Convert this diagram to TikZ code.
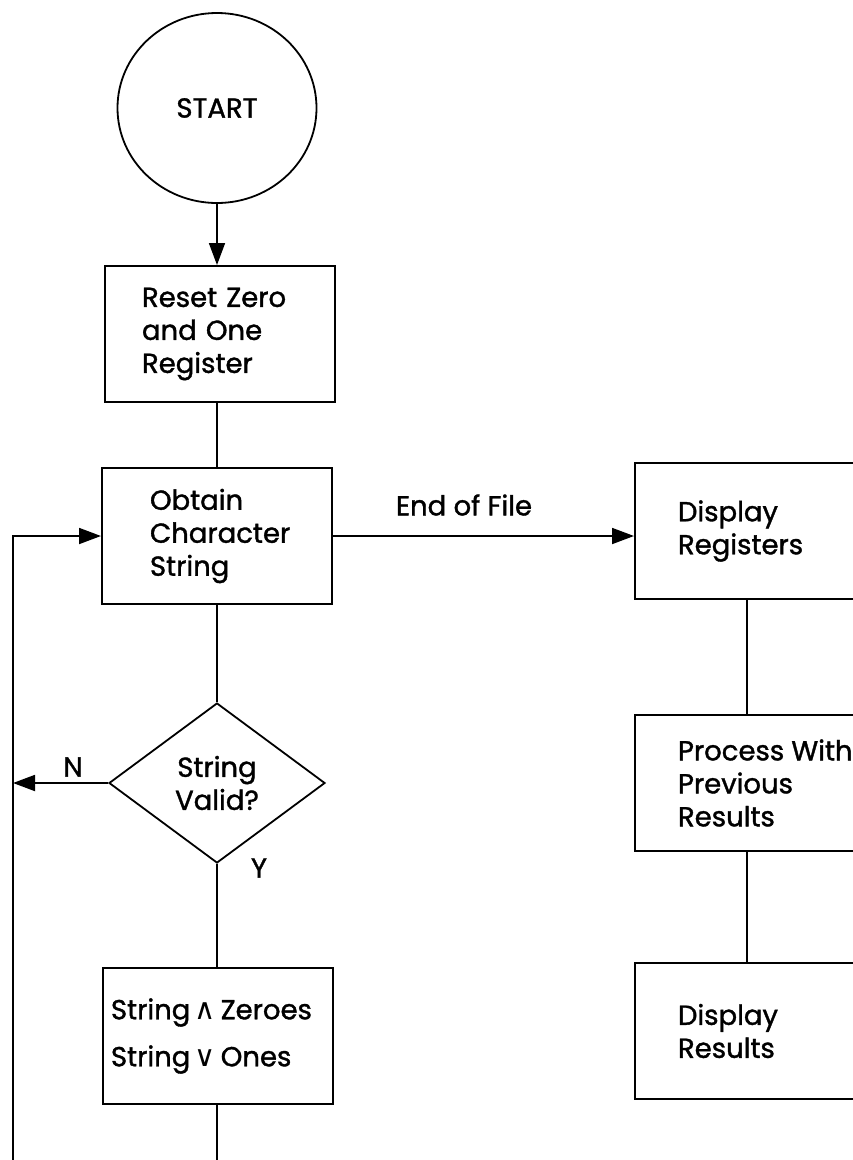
\documentclass[tikz,border=0pt]{standalone}
\usepackage{fontspec}
\setmainfont{Poppins}[FakeBold=1.3]
\newfontfamily\symfont{DejaVu Sans}
\usetikzlibrary{arrows.meta,shapes.geometric}
\newcommand{\symch}[1]{{\symfont\fontsize{29}{33}\selectfont #1}}
\begin{document}
\begin{tikzpicture}[x=1pt,y=-1pt,
  every node/.style={font=\fontsize{27.5}{33}\selectfont},
  conn/.style={line width=1.8pt},
  arr/.style={conn,-{Triangle[length=22pt,width=16pt]}},
  box/.style={draw,line width=2pt,rectangle,minimum width=230pt,minimum height=136pt,align=left,inner xsep=0pt},
  rbox/.style={box,minimum width=300pt,text width=214pt},
  lbl/.style={inner sep=0pt}
]
\useasboundingbox (0,0) rectangle (853,1160);
\clip (0,0) rectangle (853,1160);
\fill[white] (0,0) rectangle (853,1160);

\node[draw,ellipse,line width=1.8pt,minimum width=199pt,minimum height=190pt,inner sep=0pt] (start) at (217,108) {START};
\node[box,text width=156pt] (reset) at (220,334) {Reset Zero\\and One\\Register};
\node[box,text width=134pt] (obtain) at (217,536) {Obtain\\Character\\String};
\node[draw,diamond,line width=1.8pt,minimum width=216pt,minimum height=160pt,inner sep=0pt,align=center] (valid) at (217,783) {String\\Valid?};
\node[box,text width=214pt] (ops) at (218,1036) {String\,\symch{∧}\,Zeroes\\[14pt]String\,\symch{∨}\,Ones};

\node[rbox] (dreg) at (785,531) {Display\\Registers};
\node[rbox] (proc) at (785,783) {Process\hspace{-2pt} With\\Previous\\Results};
\node[rbox] (dres) at (785,1031) {Display\\Results};

\node[lbl] (eof) at (464,505) {End of File};
\node[lbl] (nlbl) at (73,767) {N};
\node[lbl] (ylbl) at (259,868) {Y};

\coordinate (loopbot) at (13,1175);
\coordinate (opsbot) at (217,1175);

\draw[arr] (start.south) -- (start.south |- reset.north);
\draw[conn] (reset.south -| obtain.north) -- (obtain.north);
\draw[arr] (obtain.east) -- (dreg.west |- obtain.east);
\draw[conn] (obtain.south) -- (valid.north);
\draw[conn] (valid.south) -- (valid.south |- ops.north);
\draw[conn] (ops.south -| opsbot) -- (opsbot);
\draw[arr] (valid.west) -- (valid.west -| loopbot);
\draw[arr] (loopbot) |- (obtain.west);
\draw[conn] (747,0 |- dreg.south) -- (747,0 |- proc.north);
\draw[conn] (747,0 |- proc.south) -- (747,0 |- dres.north);
\end{tikzpicture}
\end{document}
